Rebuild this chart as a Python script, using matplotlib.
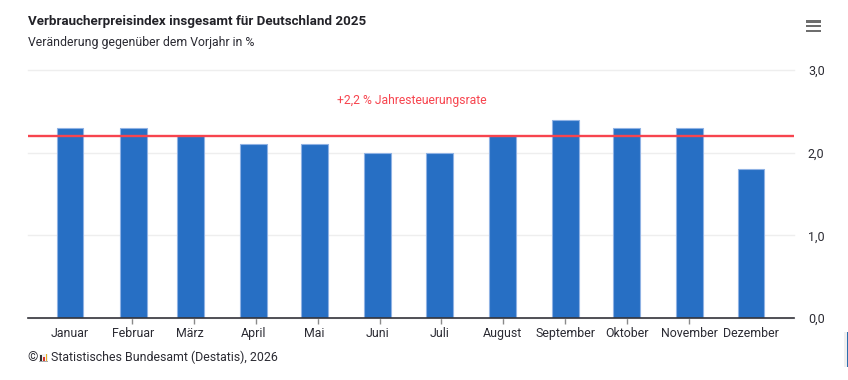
import datetime as dt
import matplotlib
matplotlib.use('Agg')
import matplotlib.pyplot as plt
import matplotlib.dates as mdates
import numpy as np
from matplotlib.patches import Rectangle

# Data
months = ['Januar', 'Februar', 'März', 'April', 'Mai', 'Juni', 'Juli',
          'August', 'September', 'Oktober', 'November', 'Dezember']
values = [2.3, 2.3, 2.2, 2.1, 2.1, 2.0, 2.0, 2.2, 2.4, 2.3, 2.3, 1.8]
dates = [dt.date(2025, m, 1) for m in range(1, 13)]
yearly_rate = 2.2
yearly_label = '+2,2 % Jahresteuerungsrate'
y_ticks = [0, 1, 2, 3]
y_labels = ['0,0', '1,0', '2,0', '3,0']

W, H = 848, 380
plt.rcParams['font.family'] = ['Roboto', 'DejaVu Sans']

BLUE = '#276fc4'
RED = '#f7444e'
TEXT = '#2b2b33'

fig = plt.figure(figsize=(W / 100, H / 100), dpi=100, facecolor='white')

# plot area in pixels: x 28-794, y 70-318
ax = fig.add_axes([28 / W, 1 - 318 / H, 766 / W, 248 / H])
x = mdates.date2num(dates)
px_per_day = 681 / 334
x0 = x[0] - (70 - 28) / px_per_day
x1 = x[0] + (794 - 70) / px_per_day
ax.bar(x, values, width=27 / px_per_day, color=BLUE, edgecolor='#8fb2e4',
       linewidth=0.8, zorder=2)
ax.axhline(yearly_rate, color=RED, lw=1.7, zorder=3)
ax.set_xlim(x0, x1)
ax.set_ylim(0, 3)

for s in ['top', 'left', 'right']:
    ax.spines[s].set_visible(False)
ax.spines['bottom'].set_color('#33333a')
ax.spines['bottom'].set_linewidth(1.2)

ax.grid(axis='y', color='#eeeeee', lw=1, zorder=0, clip_on=False)
ax.set_axisbelow(True)
ax.yaxis.tick_right()
ax.set_yticks(y_ticks, y_labels)
ax.tick_params(axis='y', length=0, pad=10, labelsize=9, labelcolor=TEXT)

# labels sit at the dates, tick marks are evenly spaced
ax.set_xticks(x, months)
ax.tick_params(axis='x', which='major', length=0, pad=6.5, labelsize=8.9, labelcolor=TEXT)
ax.set_xticks(np.linspace(x[0], x[-1], 12), minor=True)
ax.tick_params(axis='x', which='minor', length=4.5, width=1, color='#8a8a8a')

fig.text(28 / W, 1 - 21 / H, 'Verbraucherpreisindex insgesamt für Deutschland 2025',
         fontsize=9.65, fontweight='bold', color='#222228', va='center')
fig.text(28 / W, 1 - 42.5 / H, 'Veränderung gegenüber dem Vorjahr in %',
         fontsize=8.85, color=TEXT, va='center')
fig.text(411.5 / W, 1 - 100.5 / H, yearly_label, fontsize=8.7, color=RED,
         ha='center', va='center')
fig.text(27.5 / W, 1 - 357.5 / H, '©', fontsize=9.5, color=TEXT, va='center')
fig.text(51 / W, 1 - 357.5 / H, 'Statistisches Bundesamt (Destatis), 2026',
         fontsize=8.9, color=TEXT, va='center')


def px_rect(left, top, w, h, color):
    fig.add_artist(Rectangle((left / W, 1 - (top + h) / H), w / W, h / H,
                             transform=fig.transFigure, fc=color, ec='none'))


# menu icon
for top in [20, 24.8, 29.5]:
    px_rect(806, top, 15, 2.6, '#6e6e6e')

# small Destatis logo
px_rect(39, 354, 9, 8, '#f1f1f1')
px_rect(40, 355, 1.5, 6, '#333333')
px_rect(42.5, 357, 2, 4, '#d9342b')
px_rect(45.5, 353.5, 1.5, 7.5, '#e8b020')
px_rect(39, 361, 9, 1, '#aaaaaa')

# edge of the next page element at lower right
px_rect(844, 332, 3, 35, '#f0f0f0')
px_rect(847, 332, 1, 35, '#2d6fae')

fig.savefig('out.png', dpi=100)
